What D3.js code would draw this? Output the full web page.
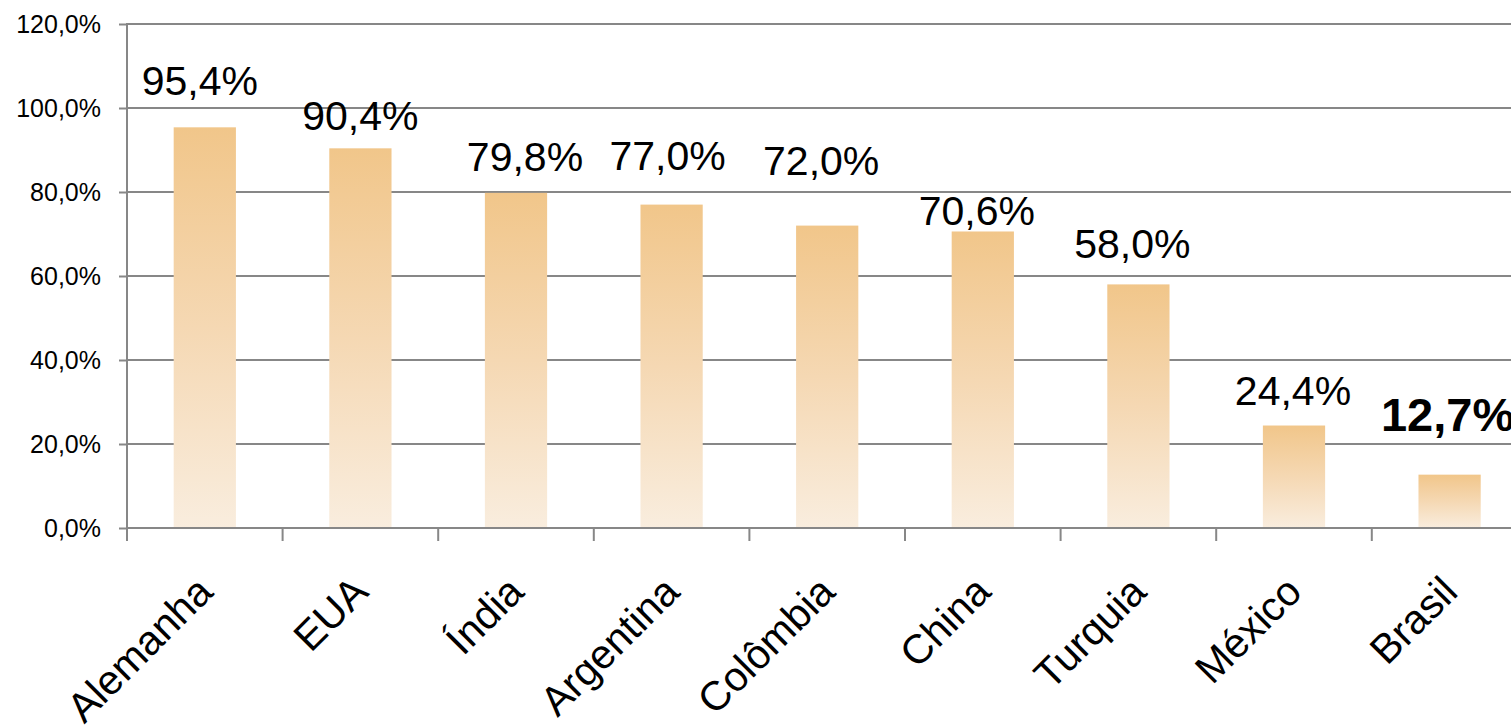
<!DOCTYPE html>
<html>
<head>
<meta charset="utf-8">
<script src="https://cdn.jsdelivr.net/npm/d3@7"></script>
<style>
  html, body { margin: 0; padding: 0; background: #fff; }
  svg { display: block; }
  text { font-family: "Liberation Sans", Arial, sans-serif; fill: #000; }
</style>
</head>
<body>
<svg id="chart" width="1511" height="728"></svg>
<script>
// ---- data ----
const categories = ["Alemanha", "EUA", "Índia", "Argentina", "Colômbia", "China", "Turquia", "México", "Brasil"];
const values = [95.4, 90.4, 79.8, 77.0, 72.0, 70.6, 58.0, 24.4, 12.7];
const yTicks = [0, 20, 40, 60, 80, 100, 120];
const highlight = "Brasil";

// ---- layout ----
const W = 1511, H = 728;
const left = 127, baseY = 528, topY = 24;
const step = 155.6;
// manual label nudges (dx from bar centre, gap above bar top), like the original
const labelDx  = [-5, 0, 9, -4, -6, -6, -6, -1, -2];
const labelGap = [32, 18, 22, 35, 51, 6.5, 26, 20.5, 44];

const loc = d3.formatLocale({decimal: ",", thousands: ".", grouping: [3], currency: ["", ""]});
const f1 = loc.format(".1f");

const svg = d3.select("#chart");
const defs = svg.append("defs");
const grad = defs.append("linearGradient")
  .attr("id", "barGrad").attr("x1", 0).attr("y1", 0).attr("x2", 0).attr("y2", 1);
grad.append("stop").attr("offset", "0%").attr("stop-color", "#F1C68A");
grad.append("stop").attr("offset", "50%").attr("stop-color", "#F5D8B3");
grad.append("stop").attr("offset", "100%").attr("stop-color", "#F9EDDE");

const x = d3.scaleBand().domain(categories)
  .range([left, left + step * categories.length])
  .paddingInner(0.6).paddingOuter(0.3);
const y = d3.scaleLinear().domain([0, 120]).range([baseY, topY]);

const gridColor = "#878787";

// gridlines
svg.append("g").selectAll("line").data(yTicks.filter(d => d > 0)).join("line")
  .attr("x1", left).attr("x2", W)
  .attr("y1", d => y(d)).attr("y2", d => y(d))
  .attr("stroke", gridColor).attr("stroke-width", 2);

// y axis
const yAxis = d3.axisLeft(y).tickValues(yTicks).tickSize(8).tickPadding(18)
  .tickFormat(d => f1(d) + "%");
const gy = svg.append("g").attr("transform", `translate(${left},0)`).call(yAxis);
gy.select(".domain").remove();
gy.selectAll(".tick line").attr("stroke", gridColor).attr("stroke-width", 2);
gy.selectAll(".tick text").attr("font-size", 25).attr("font-family", "Liberation Sans, Arial, sans-serif").attr("fill", "#000");
svg.append("line").attr("x1", left).attr("x2", left).attr("y1", topY - 1).attr("y2", baseY + 13)
  .attr("stroke", gridColor).attr("stroke-width", 2);

// bars
svg.append("g").selectAll("rect").data(categories).join("rect")
  .attr("x", d => x(d)).attr("width", x.bandwidth())
  .attr("y", (d, i) => y(values[i]))
  .attr("height", (d, i) => y(0) - y(values[i]))
  .attr("fill", "url(#barGrad)");

// x axis baseline and ticks at category boundaries
svg.append("line").attr("x1", left).attr("x2", W).attr("y1", baseY).attr("y2", baseY)
  .attr("stroke", gridColor).attr("stroke-width", 2);
const bounds = d3.range(categories.length).map(i => x.range()[0] + i * x.step());
svg.append("g").selectAll("line").data(bounds.slice(1)).join("line")
  .attr("x1", d => d).attr("x2", d => d).attr("y1", baseY).attr("y2", baseY + 13)
  .attr("stroke", gridColor).attr("stroke-width", 2);

// category labels
svg.append("g").selectAll("text").data(categories).join("text")
  .attr("transform", d => `translate(${x(d) + x.bandwidth() / 2 + 10},${baseY + 66}) rotate(-45)`)
  .attr("text-anchor", "end")
  .attr("font-size", 41)
  .text(d => d);

// value labels
svg.append("g").selectAll("text").data(categories).join("text")
  .attr("x", (d, i) => x(d) + x.bandwidth() / 2 + labelDx[i])
  .attr("y", (d, i) => y(values[i]) - labelGap[i])
  .attr("text-anchor", "middle")
  .attr("font-size", d => d === highlight ? 47 : 41)
  .attr("font-weight", d => d === highlight ? "bold" : "normal")
  .text((d, i) => f1(values[i]) + "%");
</script>
</body>
</html>
